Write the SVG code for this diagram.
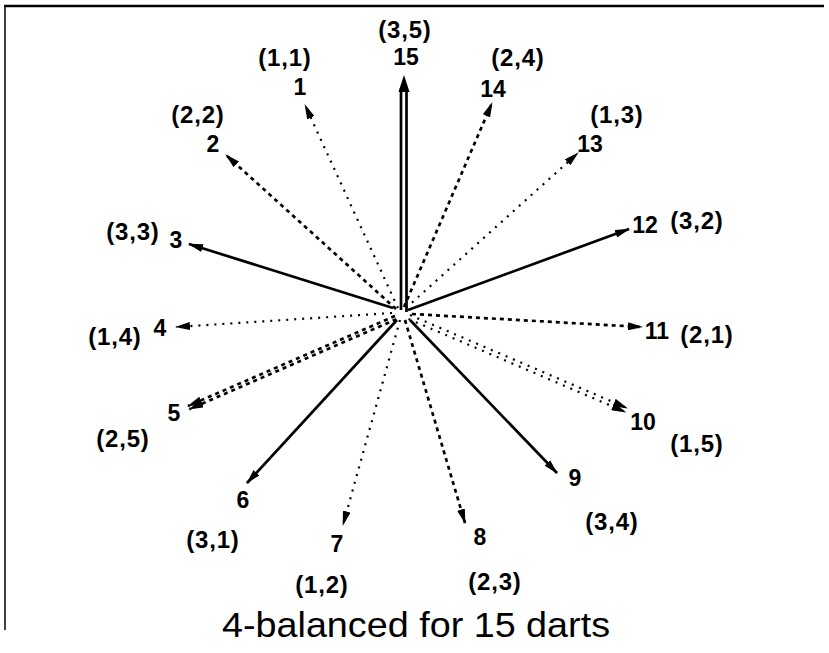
<svg xmlns="http://www.w3.org/2000/svg" width="829" height="653" viewBox="0 0 829 653">
<style>
.lbl{font-family:"Liberation Sans",Arial,sans-serif;font-weight:bold;font-size:23px;fill:#000;text-anchor:middle}
.tup{font-family:"Liberation Sans",Arial,sans-serif;font-weight:bold;font-size:24px;letter-spacing:0.8px;fill:#000;text-anchor:middle}
.title{font-family:"Liberation Sans",Arial,sans-serif;font-size:35px;fill:#000;text-anchor:middle}
.solid{stroke:#000;stroke-width:2.7;fill:none;marker-end:url(#ah)}
.dash{stroke:#000;stroke-width:2.7;stroke-dasharray:4 4;fill:none;marker-end:url(#ah)}
.dot{stroke:#000;stroke-width:2.2;stroke-dasharray:2 6;fill:none;marker-end:url(#ah)}
.frame{stroke:#000;fill:none}
</style>
<defs>
<marker id="ah" markerWidth="15" markerHeight="8" refX="14" refY="4" orient="auto" markerUnits="userSpaceOnUse">
<path d="M0,0 L15,4 L0,8 z" fill="#000"/>
</marker>
</defs>
<rect width="829" height="653" fill="#fff"/>
<g id="frame">
<line class="frame" x1="4" y1="6" x2="824" y2="6" stroke-width="2.5"/>
<line class="frame" x1="5" y1="5" x2="5" y2="630" stroke-width="1.5"/>
</g>
<g id="connectors">
<line class="dot" x1="398" y1="308" x2="305" y2="105"/>
<line class="dash" x1="396" y1="309" x2="226" y2="155"/>
<line class="solid" x1="393" y1="308" x2="189" y2="244"/>
<line class="dot" x1="392" y1="313" x2="176" y2="327"/>
<line class="dash" x1="395" y1="316" x2="188" y2="406"/>
<line class="dash" x1="396.4" y1="319.2" x2="189.4" y2="409.2"/>
<line class="solid" x1="397" y1="320" x2="247" y2="483"/>
<line class="dot" x1="400" y1="320" x2="343" y2="525"/>
<line class="dash" x1="405" y1="320" x2="465" y2="523"/>
<line class="solid" x1="410" y1="320" x2="557" y2="473"/>
<line class="dot" x1="410" y1="315" x2="627" y2="408"/>
<line class="dot" x1="408.5" y1="319" x2="625.5" y2="412"/>
<line class="dash" x1="412" y1="314" x2="642" y2="327"/>
<line class="solid" x1="408" y1="310" x2="629" y2="229"/>
<line class="dot" x1="406" y1="308" x2="578" y2="153"/>
<line class="dash" x1="404" y1="307" x2="492" y2="103"/>
<line stroke="#000" stroke-width="2.7" x1="401" y1="310" x2="401" y2="88"/>
<line stroke="#000" stroke-width="2.7" x1="406.5" y1="312" x2="406.5" y2="88"/>
<path d="M404,75 L409.5,92 L398.5,92 z" fill="#000"/>
</g>
<g id="n1"><text class="lbl" x="300" y="95">1</text><text class="tup" x="285" y="66">(1,1)</text></g>
<g id="n2"><text class="lbl" x="213" y="152">2</text><text class="tup" x="198" y="123">(2,2)</text></g>
<g id="n3"><text class="lbl" x="176" y="248">3</text><text class="tup" x="133" y="240">(3,3)</text></g>
<g id="n4"><text class="lbl" x="160" y="336">4</text><text class="tup" x="115" y="345">(1,4)</text></g>
<g id="n5"><text class="lbl" x="174" y="421">5</text><text class="tup" x="123" y="447">(2,5)</text></g>
<g id="n6"><text class="lbl" x="243" y="508">6</text><text class="tup" x="213" y="548">(3,1)</text></g>
<g id="n7"><text class="lbl" x="337" y="552">7</text><text class="tup" x="322" y="593">(1,2)</text></g>
<g id="n8"><text class="lbl" x="480" y="545">8</text><text class="tup" x="495" y="590">(2,3)</text></g>
<g id="n9"><text class="lbl" x="575" y="486">9</text><text class="tup" x="612" y="530">(3,4)</text></g>
<g id="n10"><text class="lbl" x="643" y="430">10</text><text class="tup" x="697" y="452">(1,5)</text></g>
<g id="n11"><text class="lbl" x="657" y="339">11</text><text class="tup" x="707" y="343">(2,1)</text></g>
<g id="n12"><text class="lbl" x="645" y="233">12</text><text class="tup" x="697" y="229">(3,2)</text></g>
<g id="n13"><text class="lbl" x="590" y="152">13</text><text class="tup" x="617" y="123">(1,3)</text></g>
<g id="n14"><text class="lbl" x="493" y="97">14</text><text class="tup" x="518" y="66">(2,4)</text></g>
<g id="n15"><text class="lbl" x="406" y="65">15</text><text class="tup" x="405" y="38">(3,5)</text></g>
<g id="title"><text class="title" x="416" y="637" textLength="388" lengthAdjust="spacingAndGlyphs">4-balanced for 15 darts</text></g>
</svg>
